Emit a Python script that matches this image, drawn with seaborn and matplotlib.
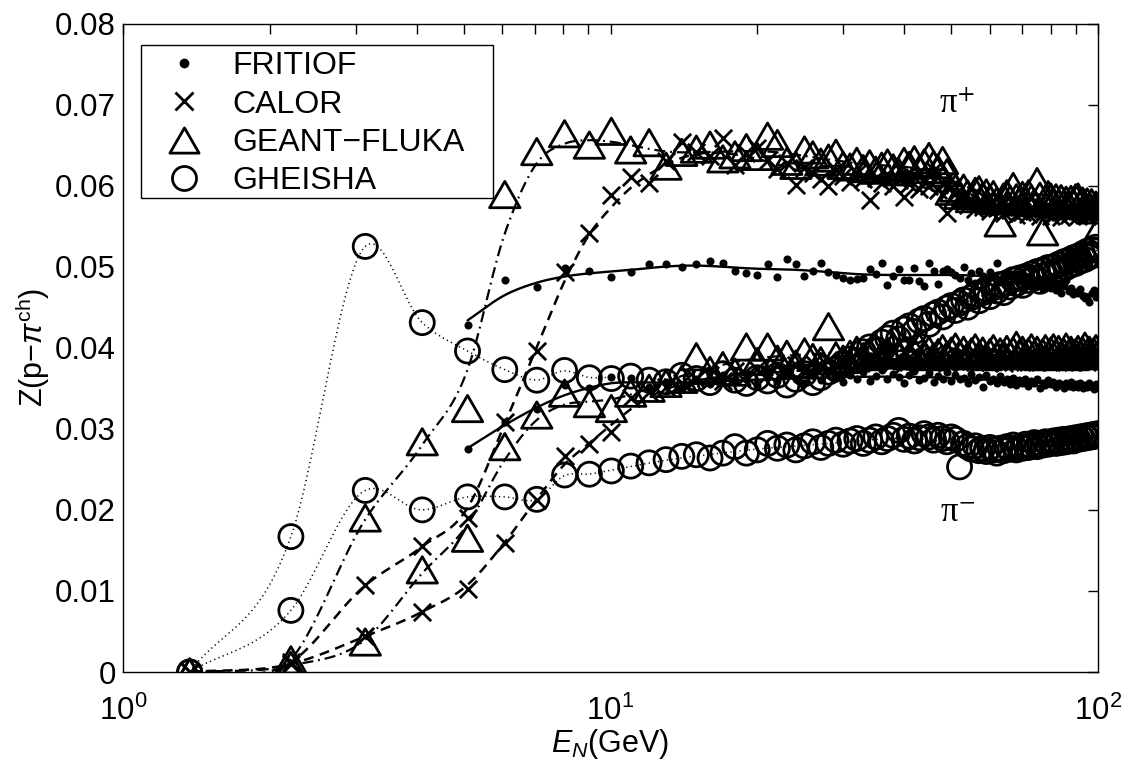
import numpy as np
import pandas as pd
import matplotlib
matplotlib.use("Agg")
import matplotlib.pyplot as plt
import seaborn as sns
from matplotlib.lines import Line2D
from matplotlib.path import Path
from matplotlib.patches import Rectangle
from matplotlib.ticker import FixedLocator, FixedFormatter, LogLocator, NullFormatter

# ---------------- data ----------------
E = [1.37, 2.21, 3.14, 4.11, 5.09, 6.07, 7.06, 8.05, 9.05, 10.04,
     11, 12, 13, 14, 15, 16, 17, 18, 19, 20,
     21, 22, 23, 24, 25, 26, 27, 28, 29, 30,
     31, 32, 33, 34, 35, 36, 37, 38, 39, 40,
     41, 42, 43, 44, 45, 46, 47, 48, 49, 50,
     51, 52, 53, 54, 55, 56, 57, 58, 59, 60,
     61, 62, 63, 64, 65, 66, 67, 68, 69, 70,
     71, 72, 73, 74, 75, 76, 77, 78, 79, 80,
     81, 82, 83, 84, 85, 86, 87, 88, 89, 90,
     91, 92, 93, 94, 95, 96, 97, 98, 99, 100]

# FRITIOF starts at E = 5.09
E_fritiof = E[4:]

fritiof_pip = [0.0428, 0.0483, 0.0475, 0.0498, 0.0495, 0.0487,
               0.0494, 0.0503, 0.0503, 0.0500, 0.0503, 0.0507, 0.0505, 0.0495, 0.0492, 0.0490,
               0.0503, 0.0487, 0.0510, 0.0503, 0.0489, 0.0495, 0.0505, 0.0494, 0.0490, 0.0486,
               0.0483, 0.0485, 0.0486, 0.0497, 0.0491, 0.0505, 0.0477, 0.0488, 0.0497, 0.0483,
               0.0484, 0.0498, 0.0482, 0.0476, 0.0505, 0.0495, 0.0479, 0.0495, 0.0497, 0.0493,
               0.0490, 0.0486, 0.0500, 0.0483, 0.0492, 0.0480, 0.0495, 0.0488, 0.0484, 0.0493,
               0.0487, 0.0505, 0.0481, 0.0490, 0.0494, 0.0479, 0.0488, 0.0485, 0.0491, 0.0482,
               0.0486, 0.0480, 0.0489, 0.0476, 0.0484, 0.0479, 0.0473, 0.0482, 0.0477, 0.0474,
               0.0480, 0.0471, 0.0476, 0.0468, 0.0478, 0.0484, 0.0470, 0.0474, 0.0466, 0.0469,
               0.0467, 0.0472, 0.0464, 0.0461, 0.0461, 0.0457, 0.0468, 0.0471, 0.0463, 0.0467]

fritiof_pim = [0.0275, 0.0308, 0.0325, 0.0354, 0.0350, 0.0364,
               0.0363, 0.0352, 0.0358, 0.0349, 0.0361, 0.0355, 0.0366, 0.0358, 0.0362, 0.0354,
               0.0364, 0.0359, 0.0368, 0.0361, 0.0357, 0.0366, 0.0360, 0.0371, 0.0363, 0.0358,
               0.0367, 0.0362, 0.0370, 0.0359, 0.0365, 0.0372, 0.0361, 0.0368, 0.0364, 0.0357,
               0.0366, 0.0371, 0.0360, 0.0363, 0.0369, 0.0358, 0.0365, 0.0362, 0.0370, 0.0359,
               0.0366, 0.0361, 0.0363, 0.0357, 0.0368, 0.0360, 0.0364, 0.0352, 0.0366, 0.0359,
               0.0362, 0.0356, 0.0365, 0.0358, 0.0361, 0.0355, 0.0363, 0.0354, 0.0360, 0.0357,
               0.0362, 0.0353, 0.0359, 0.0356, 0.0361, 0.0350, 0.0357, 0.0354, 0.0360, 0.0355,
               0.0358, 0.0352, 0.0357, 0.0354, 0.0350, 0.0356, 0.0353, 0.0358, 0.0351, 0.0355,
               0.0352, 0.0357, 0.0350, 0.0354, 0.0351, 0.0356, 0.0352, 0.0349, 0.0355, 0.0353]

calor_pip = [0.0000, 0.0012, 0.0107, 0.0155, 0.0190, 0.0309, 0.0396, 0.0494, 0.0541, 0.0588,
             0.0611, 0.0603, 0.0630, 0.0654, 0.0642, 0.0636, 0.0659, 0.0625, 0.0640, 0.0646,
             0.0632, 0.0620, 0.0628, 0.0601, 0.0622, 0.0615, 0.0608, 0.0600, 0.0619, 0.0612,
             0.0604, 0.0616, 0.0608, 0.0582, 0.0610, 0.0603, 0.0614, 0.0599, 0.0607, 0.0586,
             0.0602, 0.0611, 0.0596, 0.0605, 0.0600, 0.0619, 0.0594, 0.0603, 0.0566, 0.0598,
             0.0590, 0.0582, 0.0588, 0.0576, 0.0584, 0.0571, 0.0580, 0.0574, 0.0583, 0.0569,
             0.0578, 0.0572, 0.0581, 0.0566, 0.0576, 0.0570, 0.0579, 0.0564, 0.0574, 0.0568,
             0.0577, 0.0565, 0.0573, 0.0569, 0.0576, 0.0562, 0.0571, 0.0567, 0.0574, 0.0563,
             0.0570, 0.0566, 0.0575, 0.0561, 0.0569, 0.0573, 0.0564, 0.0571, 0.0567, 0.0574,
             0.0562, 0.0570, 0.0566, 0.0573, 0.0563, 0.0569, 0.0575, 0.0566, 0.0572, 0.0579]

calor_pim = [0.0000, 0.0010, 0.0044, 0.0074, 0.0103, 0.0159, 0.0212, 0.0266, 0.0281, 0.0296,
             0.0338, 0.0346, 0.0352, 0.0357, 0.0362, 0.0366, 0.0359, 0.0371, 0.0365, 0.0374,
             0.0368, 0.0377, 0.0370, 0.0379, 0.0373, 0.0381, 0.0376, 0.0384, 0.0378, 0.0382,
             0.0387, 0.0379, 0.0384, 0.0390, 0.0381, 0.0386, 0.0392, 0.0383, 0.0388, 0.0380,
             0.0389, 0.0384, 0.0391, 0.0382, 0.0387, 0.0393, 0.0385, 0.0389, 0.0381, 0.0388,
             0.0384, 0.0390, 0.0382, 0.0387, 0.0392, 0.0383, 0.0388, 0.0385, 0.0391, 0.0382,
             0.0387, 0.0384, 0.0390, 0.0381, 0.0386, 0.0392, 0.0383, 0.0389, 0.0385, 0.0390,
             0.0382, 0.0388, 0.0384, 0.0391, 0.0383, 0.0387, 0.0393, 0.0385, 0.0389, 0.0382,
             0.0388, 0.0384, 0.0390, 0.0386, 0.0383, 0.0391, 0.0385, 0.0389, 0.0382, 0.0387,
             0.0384, 0.0390, 0.0386, 0.0392, 0.0383, 0.0388, 0.0385, 0.0391, 0.0386, 0.0392]

geant_pip = [0.0000, 0.0015, 0.0190, 0.0284, 0.0325, 0.0589, 0.0642, 0.0664, 0.0650, 0.0667,
             0.0644, 0.0653, 0.0624, 0.0641, 0.0645, 0.0650, 0.0633, 0.0638, 0.0647, 0.0636,
             0.0661, 0.0652, 0.0630, 0.0625, 0.0644, 0.0638, 0.0629, 0.0634, 0.0640, 0.0625,
             0.0623, 0.0630, 0.0621, 0.0627, 0.0619, 0.0624, 0.0628, 0.0622, 0.0617, 0.0630,
             0.0625, 0.0632, 0.0620, 0.0628, 0.0636, 0.0626, 0.0620, 0.0631, 0.0616, 0.0593,
             0.0597, 0.0588, 0.0597, 0.0590, 0.0584, 0.0593, 0.0595, 0.0587, 0.0591, 0.0584,
             0.0589, 0.0581, 0.0554, 0.0586, 0.0590, 0.0583, 0.0599, 0.0585, 0.0580, 0.0588,
             0.0582, 0.0590, 0.0584, 0.0579, 0.0605, 0.0587, 0.0543, 0.0583, 0.0589, 0.0586,
             0.0580, 0.0585, 0.0578, 0.0584, 0.0577, 0.0582, 0.0576, 0.0583, 0.0579, 0.0585,
             0.0586, 0.0578, 0.0581, 0.0575, 0.0580, 0.0574, 0.0579, 0.0570, 0.0576, 0.0545]

geant_pim = [0.0000, 0.0008, 0.0037, 0.0126, 0.0165, 0.0278, 0.0317, 0.0344, 0.0331, 0.0325,
             0.0344, 0.0350, 0.0356, 0.0361, 0.0389, 0.0372, 0.0378, 0.0370, 0.0401, 0.0383,
             0.0401, 0.0386, 0.0392, 0.0380, 0.0395, 0.0388, 0.0384, 0.0426, 0.0390, 0.0386,
             0.0392, 0.0397, 0.0389, 0.0394, 0.0400, 0.0391, 0.0396, 0.0402, 0.0393, 0.0398,
             0.0390, 0.0395, 0.0401, 0.0392, 0.0397, 0.0389, 0.0394, 0.0399, 0.0391, 0.0396,
             0.0401, 0.0392, 0.0397, 0.0390, 0.0395, 0.0400, 0.0391, 0.0396, 0.0389, 0.0394,
             0.0399, 0.0390, 0.0395, 0.0392, 0.0398, 0.0391, 0.0396, 0.0403, 0.0393, 0.0397,
             0.0390, 0.0395, 0.0400, 0.0392, 0.0397, 0.0389, 0.0394, 0.0399, 0.0391, 0.0396,
             0.0400, 0.0393, 0.0398, 0.0390, 0.0395, 0.0401, 0.0392, 0.0397, 0.0389, 0.0394,
             0.0398, 0.0391, 0.0396, 0.0402, 0.0393, 0.0397, 0.0390, 0.0395, 0.0399, 0.0392]

gheisha_pip = [0.0000, 0.0167, 0.0525, 0.0431, 0.0396, 0.0373, 0.0360, 0.0372, 0.0363, 0.0362,
               0.0365, 0.0360, 0.0358, 0.0366, 0.0362, 0.0357, 0.0368, 0.0360, 0.0356, 0.0363,
               0.0359, 0.0366, 0.0354, 0.0361, 0.0368, 0.0357, 0.0363, 0.0370, 0.0374, 0.0381,
               0.0386, 0.0384, 0.0395, 0.0401, 0.0398, 0.0407, 0.0412, 0.0418, 0.0411, 0.0423,
               0.0427, 0.0420, 0.0433, 0.0436, 0.0429, 0.0441, 0.0444, 0.0438, 0.0449, 0.0452,
               0.0446, 0.0455, 0.0459, 0.0450, 0.0462, 0.0466, 0.0458, 0.0468, 0.0472, 0.0463,
               0.0474, 0.0470, 0.0478, 0.0468, 0.0480, 0.0475, 0.0484, 0.0479, 0.0486, 0.0477,
               0.0488, 0.0483, 0.0491, 0.0486, 0.0494, 0.0482, 0.0496, 0.0490, 0.0499, 0.0492,
               0.0500, 0.0495, 0.0503, 0.0497, 0.0506, 0.0499, 0.0508, 0.0502, 0.0511, 0.0504,
               0.0513, 0.0507, 0.0516, 0.0509, 0.0519, 0.0512, 0.0521, 0.0515, 0.0524, 0.0520]

gheisha_pim = [0.0000, 0.0076, 0.0224, 0.0200, 0.0216, 0.0216, 0.0213, 0.0243, 0.0244, 0.0248,
               0.0254, 0.0258, 0.0262, 0.0266, 0.0268, 0.0264, 0.0270, 0.0278, 0.0270, 0.0274,
               0.0282, 0.0276, 0.0280, 0.0274, 0.0279, 0.0284, 0.0277, 0.0282, 0.0286, 0.0281,
               0.0285, 0.0288, 0.0282, 0.0286, 0.0290, 0.0284, 0.0288, 0.0292, 0.0298, 0.0287,
               0.0291, 0.0285, 0.0289, 0.0294, 0.0290, 0.0286, 0.0292, 0.0288, 0.0284, 0.0290,
               0.0287, 0.0253, 0.0282, 0.0278, 0.0275, 0.0279, 0.0273, 0.0276, 0.0272, 0.0277,
               0.0274, 0.0270, 0.0276, 0.0273, 0.0278, 0.0275, 0.0280, 0.0274, 0.0278, 0.0276,
               0.0281, 0.0277, 0.0279, 0.0283, 0.0278, 0.0282, 0.0280, 0.0284, 0.0281, 0.0283,
               0.0285, 0.0282, 0.0286, 0.0283, 0.0287, 0.0284, 0.0286, 0.0288, 0.0285, 0.0289,
               0.0287, 0.0290, 0.0288, 0.0291, 0.0289, 0.0292, 0.0290, 0.0293, 0.0291, 0.0294]

models = ["FRITIOF", "CALOR", "GEANT\u2212FLUKA", "GHEISHA"]
y_ticks = [0, 0.01, 0.02, 0.03, 0.04, 0.05, 0.06, 0.07, 0.08]
y_ticklabels = ["0", "0.01", "0.02", "0.03", "0.04", "0.05", "0.06", "0.07", "0.08"]

# ---------------- style ----------------
sns.set_style("white")
plt.rcParams.update({
    "font.family": ["Liberation Sans", "DejaVu Sans"],
    "mathtext.fontset": "custom",
    "mathtext.rm": "Liberation Sans",
    "mathtext.it": "Liberation Sans:italic",
    "mathtext.bf": "Liberation Sans:bold",
    "mathtext.sf": "Liberation Sans",
    "axes.edgecolor": "black",
    "axes.labelcolor": "black",
    "axes.linewidth": 1.0,
    "xtick.color": "black",
    "ytick.color": "black",
    "xtick.labelcolor": "black",
    "ytick.labelcolor": "black",
    "text.color": "black",
})

FS = 22.5
TRI = Path([(-1.0, -0.866), (1.0, -0.866), (0.0, 0.866), (-1.0, -0.866)],
           [Path.MOVETO, Path.LINETO, Path.LINETO, Path.CLOSEPOLY])


def smooth_curve(x, y, sig_lo=0.06, sig_hi=0.06, n=600):
    """Local-linear Gaussian-kernel smoothing in log10(x), then a cubic Hermite curve."""
    lx = np.log10(np.asarray(x, float))
    y = np.asarray(y, float)
    sig = np.where(lx < 1.0, sig_lo, sig_hi)[:, None]
    w = np.exp(-0.5 * ((lx[:, None] - lx[None, :]) / sig) ** 2)
    sw = w.sum(1)
    mx = (w @ lx) / sw
    my = (w @ y) / sw
    dx = lx[None, :] - mx[:, None]
    dy = y[None, :] - my[:, None]
    sxx = (w * dx * dx).sum(1)
    sxy = (w * dx * dy).sum(1)
    slope = np.where(sxx > 1e-12, sxy / np.maximum(sxx, 1e-12), 0.0)
    ys = my + slope * (lx - mx)
    m = np.gradient(ys, lx)
    grid = np.linspace(lx[0], lx[-1], n)
    i = np.clip(np.searchsorted(lx, grid) - 1, 0, len(lx) - 2)
    h = lx[i + 1] - lx[i]
    t = (grid - lx[i]) / h
    h00 = 2 * t**3 - 3 * t**2 + 1
    h10 = t**3 - 2 * t**2 + t
    h01 = -2 * t**3 + 3 * t**2
    h11 = t**3 - t**2
    yg = h00 * ys[i] + h10 * h * m[i] + h01 * ys[i + 1] + h11 * h * m[i + 1]
    return 10 ** grid, yg


fig = plt.figure(figsize=(11.22, 7.61), dpi=100)
ax = fig.add_axes([123 / 1122, 89 / 761, 975 / 1122, 648.5 / 761])
ax.set_xscale("log")

series = [
    (E_fritiof, fritiof_pip, "fritiof"), (E_fritiof, fritiof_pim, "fritiof"),
    (E, calor_pip, "calor"), (E, calor_pim, "calor"),
    (E, geant_pip, "geant"), (E, geant_pim, "geant"),
    (E, gheisha_pip, "gheisha"), (E, gheisha_pim, "gheisha"),
]

line_style = {
    "fritiof": dict(linestyle="-", linewidth=1.7),
    "calor": dict(linestyle=(0, (4.0, 2.6)), linewidth=1.8),
    "geant": dict(linestyle=(0, (5.0, 2.2, 0.8, 2.2)), linewidth=1.6),
    "gheisha": dict(linestyle=(0, (0.8, 2.2)), linewidth=1.1),
}
smooth_width = {
    "fritiof": (0.08, 0.07),
    "calor": (0.045, 0.06),
    "geant": (0.055, 0.06),
    "gheisha": (0.02, 0.06),
}

# fitted curves
for x, y, key in series:
    xs, ys = smooth_curve(x, y, *smooth_width[key])
    sns.lineplot(x=xs, y=ys, ax=ax, color="black", estimator=None, sort=False,
                 **line_style[key])

# markers
for x, y, key in series:
    df = pd.DataFrame({"E": x, "Z": y})
    if key == "fritiof":
        sns.scatterplot(data=df, x="E", y="Z", ax=ax, marker="o", s=34,
                        color="black", edgecolor="black", linewidth=0, zorder=5)
    elif key == "calor":
        sns.scatterplot(data=df, x="E", y="Z", ax=ax, marker="x", s=155,
                        color="black", linewidth=2.0, zorder=5)
    elif key == "geant":
        sns.scatterplot(data=df, x="E", y="Z", ax=ax, marker=TRI, s=480,
                        facecolor="none", edgecolor="black", linewidth=2.0, zorder=5)
    else:
        sns.scatterplot(data=df, x="E", y="Z", ax=ax, marker="o", s=300,
                        facecolor="none", edgecolor="black", linewidth=2.0, zorder=5)

# axes
ax.set_xlim(1, 100)
ax.set_ylim(0, 0.08)
ax.yaxis.set_major_locator(FixedLocator(y_ticks))
ax.yaxis.set_major_formatter(FixedFormatter(y_ticklabels))
ax.xaxis.set_major_locator(LogLocator(base=10, numticks=5))
ax.xaxis.set_minor_locator(LogLocator(base=10, subs=np.arange(2, 10), numticks=20))
ax.xaxis.set_minor_formatter(NullFormatter())
ax.tick_params(axis="both", which="both", direction="in", top=True, right=True,
               labelsize=FS, width=1.0, colors="black")
ax.tick_params(axis="both", which="major", length=7)
ax.tick_params(axis="x", which="minor", length=7)
ax.tick_params(axis="y", which="major", pad=5)
ax.tick_params(axis="x", which="major", pad=17)
for sp in ax.spines.values():
    sp.set_visible(True)
    sp.set_color("black")
    sp.set_linewidth(1.0)

ax.set_xlabel(r"$E_N$(GeV)", fontsize=22, labelpad=0, color="black")
ax.set_ylabel(r"Z(p$-\pi^{\rm ch}$)", fontsize=22, labelpad=2, color="black")

ax.text(51.4, 0.0700, "\u03c0$^{+}$", fontsize=25, family="Liberation Serif",
        math_fontfamily="stix", ha="center", va="center")
ax.text(51.4, 0.0196, "\u03c0$^{-}$", fontsize=25, family="Liberation Serif",
        math_fontfamily="stix", ha="center", va="center")

# legend (markers only) with a MATLAB-like box drawn inside the axes
handles = [
    Line2D([], [], ls="none", marker="o", ms=6, color="black"),
    Line2D([], [], ls="none", marker="x", ms=12.5, mew=2.0, color="black"),
    Line2D([], [], ls="none", marker=TRI, ms=21, mew=2.0, mfc="none", mec="black"),
    Line2D([], [], ls="none", marker="o", ms=17.3, mew=2.0, mfc="none", mec="black"),
]
box = Rectangle((141 / 1122, (761 - 198) / 761), 352 / 1122, 153 / 761,
                transform=fig.transFigure, facecolor="white", edgecolor="black",
                linewidth=1.0, zorder=19, clip_on=False)
ax.add_patch(box)
leg = ax.legend(handles, models, loc="upper left", bbox_to_anchor=(0.0185, 0.967),
                borderaxespad=0, fontsize=23, frameon=False,
                handlelength=2.3, handletextpad=0.35,
                borderpad=0.2, labelspacing=0.26)
leg.set_zorder(20)

fig.savefig("out.png", dpi=100, facecolor="white")
